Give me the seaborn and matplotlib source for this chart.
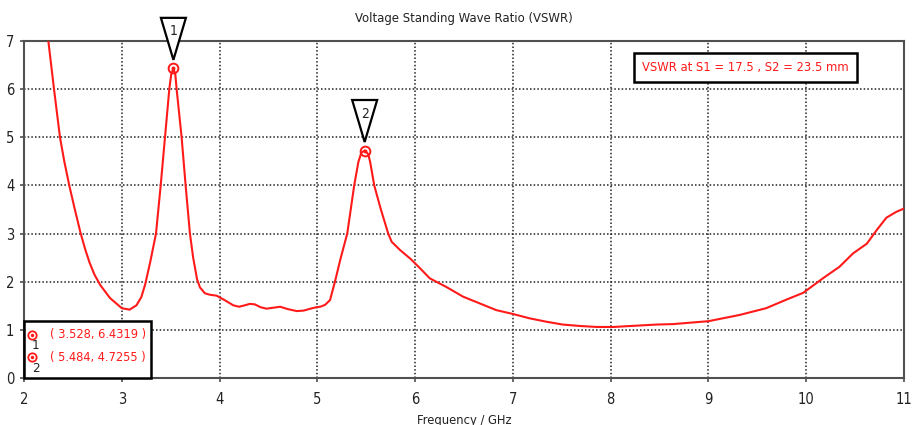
import numpy as np
import pandas as pd
import matplotlib
matplotlib.use("Agg")
import matplotlib.pyplot as plt
import matplotlib.transforms as mtransforms
from matplotlib.patches import Polygon, Rectangle
import seaborn as sns

# ---------------- data ----------------
freq = [2.22, 2.249, 2.307, 2.368, 2.412, 2.463, 2.52, 2.58, 2.625, 2.67,
        2.72, 2.78, 2.88, 3.00, 3.08, 3.15, 3.20, 3.24, 3.29, 3.35, 3.398,
        3.442, 3.486, 3.505, 3.528, 3.548, 3.561, 3.612, 3.653, 3.697, 3.73,
        3.77, 3.80, 3.85, 3.90, 3.97, 4.05, 4.14, 4.20, 4.24, 4.31, 4.36,
        4.42, 4.48, 4.55, 4.62, 4.70, 4.79, 4.86, 4.93, 4.99, 5.03, 5.08,
        5.13, 5.18, 5.24, 5.306, 5.377, 5.42, 5.45, 5.484, 5.52, 5.54, 5.582,
        5.65, 5.725, 5.76, 5.845, 5.95, 6.05, 6.15, 6.32, 6.49, 6.66, 6.83,
        7.00, 7.17, 7.34, 7.51, 7.69, 7.86, 8.03, 8.20, 8.47, 8.64, 9.00,
        9.32, 9.59, 9.80, 9.97, 10.17, 10.34, 10.48, 10.62, 10.72, 10.82,
        10.92, 11.00]
vswr = [7.55, 7.00, 6.00, 5.00, 4.50, 4.00, 3.50, 3.00, 2.68, 2.40,
        2.15, 1.93, 1.66, 1.45, 1.42, 1.51, 1.68, 1.95, 2.40, 3.00, 4.00,
        5.00, 6.00, 6.30, 6.4319, 6.30, 6.00, 5.00, 4.00, 3.00, 2.50,
        2.05, 1.88, 1.76, 1.73, 1.71, 1.62, 1.51, 1.48, 1.50, 1.54, 1.53,
        1.47, 1.44, 1.46, 1.48, 1.43, 1.39, 1.40, 1.44, 1.47, 1.48, 1.52,
        1.62, 2.00, 2.50, 3.00, 4.00, 4.49, 4.68, 4.7255, 4.65, 4.49, 4.00,
        3.50, 3.00, 2.83, 2.66, 2.48, 2.28, 2.07, 1.89, 1.69, 1.55, 1.41,
        1.33, 1.24, 1.17, 1.11, 1.08, 1.06, 1.06, 1.08, 1.11, 1.12, 1.18,
        1.31, 1.45, 1.63, 1.77, 2.07, 2.31, 2.59, 2.79, 3.07, 3.33,
        3.45, 3.52]

marker_freq = [3.528, 5.484]
marker_vswr = [6.4319, 4.7255]
marker_ids = ["1", "2"]

x_ticks = [2, 3, 4, 5, 6, 7, 8, 9, 10, 11]
y_ticks = [0, 1, 2, 3, 4, 5, 6, 7]

title = "Voltage Standing Wave Ratio (VSWR)"
xlabel = "Frequency / GHz"
note = "VSWR at S1 = 17.5 , S2 = 23.5 mm"

# ---------------- style ----------------
sns.set_theme(style="ticks")
plt.rcParams["font.family"] = ["DejaVu Sans"]
plt.rcParams["font.stretch"] = "condensed"

RED = "#ff1a1a"
SPINE = "#505050"
TXT = "#222222"

fig = plt.figure(figsize=(9.15, 4.25), dpi=100)
fig.patch.set_facecolor("white")
ax = fig.add_axes([24 / 915, 1 - 378 / 425, 880 / 915, 337 / 425])
ax.set_facecolor("white")

df = pd.DataFrame({"freq": freq, "vswr": vswr})
sns.lineplot(data=df, x="freq", y="vswr", ax=ax, color=RED, lw=1.5,
             sort=False, estimator=None, zorder=3)

ax.set_xlim(2, 11)
ax.set_ylim(0, 7)
ax.set_xticks(x_ticks)
ax.set_yticks(y_ticks)
ax.set_xlabel(xlabel, fontsize=9.3, color=TXT, labelpad=5)
ax.set_ylabel("")
ax.set_title(title, fontsize=9.4, color=TXT, pad=14)

ax.grid(True, color="#222222", lw=1.1, linestyle=(0, (1, 1.4)))
ax.set_axisbelow(True)
for s in ax.spines.values():
    s.set_visible(True)
    s.set_color(SPINE)
    s.set_linewidth(1.5)
ax.tick_params(axis="both", direction="out", length=3, width=1.2,
               color=SPINE, labelsize=10.5, labelcolor=TXT)
ax.tick_params(axis="x", pad=7)
ax.tick_params(axis="y", pad=4)

# peak markers (circle with centre dot)
ax.plot(marker_freq, marker_vswr, "o", mfc="none", mec=RED, ms=7, mew=1.4,
        zorder=4)
ax.plot(marker_freq, marker_vswr, "o", color=RED, ms=1.8, zorder=4)

# triangle flags above peaks
for fx, fy, lab in zip(marker_freq, marker_vswr, marker_ids):
    trans = fig.dpi_scale_trans + mtransforms.ScaledTranslation(fx, fy, ax.transData)
    tri = Polygon([(-0.125, 0.505), (0.125, 0.505), (0.0, 0.085)], closed=True,
                  transform=trans, fc="white", ec="black", lw=1.6,
                  clip_on=False, zorder=6)
    ax.add_patch(tri)
    ax.text(0.0, 0.37, lab, transform=trans, ha="center", va="center",
            fontsize=10, color=TXT, zorder=7, clip_on=False)

# annotation box at the top right
ax.text(0.82, 0.921, note, transform=ax.transAxes, ha="center", va="center",
        color=RED, fontsize=9.3, zorder=6,
        bbox=dict(boxstyle="square,pad=0.6", fc="white", ec="black", lw=1.8))

# marker read-out box at the bottom left
ax.add_patch(Rectangle((0, 0), 0.144, 0.17, transform=ax.transAxes,
                       fc="white", ec="black", lw=1.8, zorder=5, clip_on=False))
row_y = [0.128, 0.061]
for (fx, fy, lab), ry in zip(zip(marker_freq, marker_vswr, marker_ids), row_y):
    ax.plot([0.0095], [ry], "o", mfc="none", mec=RED, ms=6, mew=1.3,
            transform=ax.transAxes, zorder=6, clip_on=False)
    ax.plot([0.0095], [ry], "o", color=RED, ms=1.5,
            transform=ax.transAxes, zorder=6, clip_on=False)
    ax.text(0.013, ry - 0.032, lab, transform=ax.transAxes, ha="center",
            va="center", fontsize=9.5, color=TXT, zorder=7)
    ax.text(0.029, ry, f"( {fx:.3f}, {fy:.4f} )", transform=ax.transAxes,
            ha="left", va="center", fontsize=9.2, color=RED, zorder=7)

fig.savefig("out.png", dpi=100, facecolor="white")
